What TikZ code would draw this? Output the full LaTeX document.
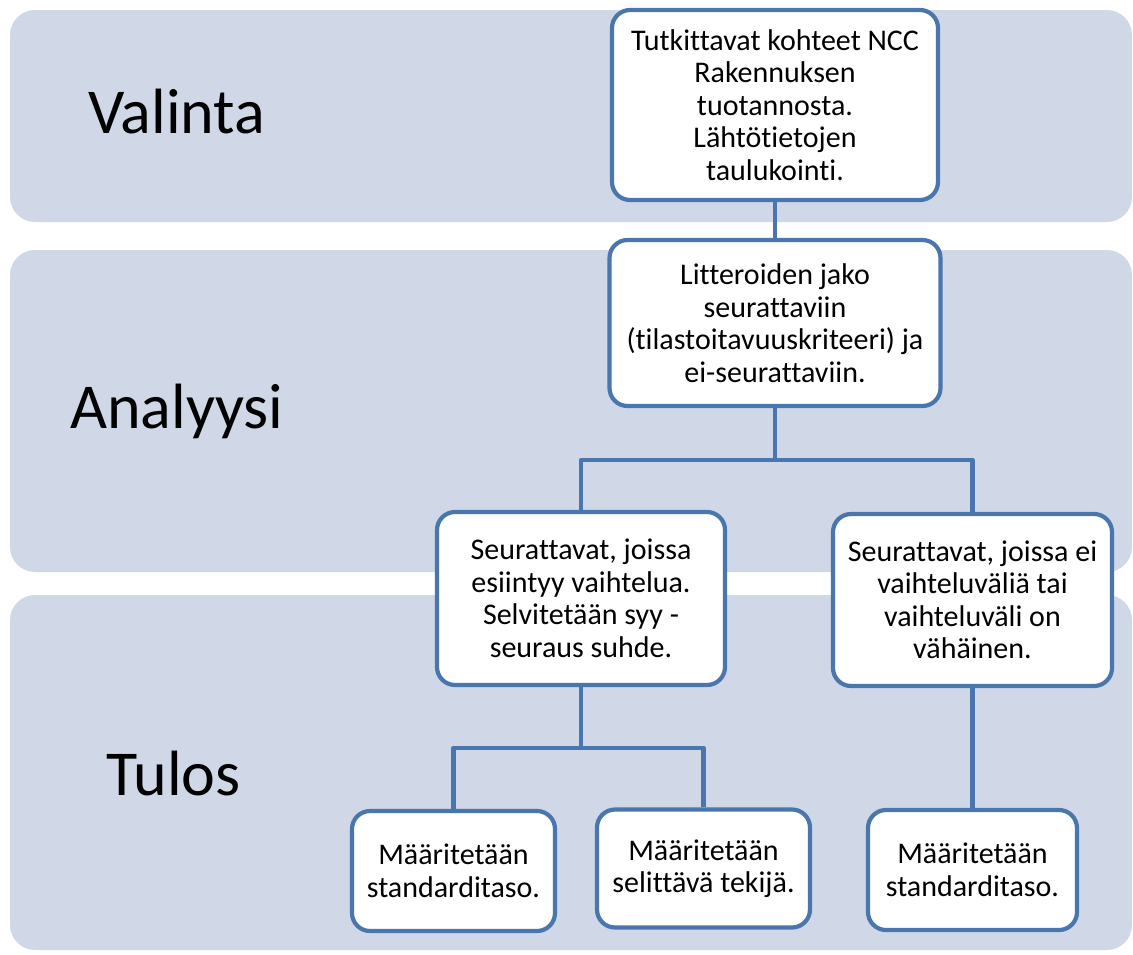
\documentclass[tikz,border=0pt]{standalone}
\usepackage{fontspec}
\setmainfont{Carlito}[Ligatures={NoCommon}]
\definecolor{bandc}{HTML}{D0D8E8}
\definecolor{linec}{HTML}{4A76AE}
\begin{document}
\begin{tikzpicture}[x=1pt,y=1pt,
  band/.style={fill=bandc, draw=none, rounded corners=25pt},
  box/.style={draw=linec, line width=4.2pt, fill=white, rounded corners=18pt,
    align=center, inner sep=0pt, font=\fontsize{30}{32.5}\selectfont},
  conn/.style={draw=linec, line width=4.5pt},
  lbl/.style={anchor=base west, inner sep=0pt, font=\fontsize{64}{72}\selectfont}]
\useasboundingbox (0,0) rectangle (1133,-954);
% bands
\path[band] (10,-10) rectangle (1132,-222);
\path[band] (10,-250) rectangle (1132,-572);
\path[band] (10,-595) rectangle (1132,-950);
% labels
\node[lbl] (l1) at (88,-133) {Valinta};
\node[lbl] (l2) at (70,-428) {Analyysi};
\node[lbl] (l3) at (106,-795) {Tulos};
% junction coordinates
\coordinate (j1) at (775,-460);
\coordinate (j1l) at (581,-460);
\coordinate (j1r) at (972.5,-460);
\coordinate (j2) at (581,-748);
\coordinate (j2l) at (453.5,-748);
\coordinate (j2r) at (703.5,-748);
% boxes
\node[box, minimum width=326pt, minimum height=190pt] (b1) at (775,-105)
  {Tutkittavat kohteet NCC\\Rakennuksen\\tuotannosta.\\Lähtötietojen\\taulukointi.};
\node[box, minimum width=331pt, minimum height=166pt] (b2) at (775,-323)
  {Litteroiden jako\\seurattaviin\\(tilastoitavuuskriteeri) ja\\ei-seurattaviin.};
\node[box, minimum width=288pt, minimum height=173pt] (b3) at (581,-598.5)
  {Seurattavat, joissa\\esiintyy vaihtelua.\\Selvitetään syy -\\seuraus suhde.};
\node[box, minimum width=279pt, minimum height=172pt] (b4) at (972.5,-600)
  {Seurattavat, joissa ei\\vaihteluväliä tai\\vaihteluväli on\\vähäinen.};
\node[box, minimum width=203pt, minimum height=120pt] (b5) at (453.5,-871)
  {Määritetään\\standarditaso.};
\node[box, minimum width=213pt, minimum height=118pt] (b6) at (703.5,-868.5)
  {Määritetään\\selittävä tekijä.};
\node[box, minimum width=209pt, minimum height=120pt] (b7) at (972.5,-870)
  {Määritetään\\standarditaso.};
% connectors
\draw[conn] (b1.south) -- (b2.north);
\draw[conn] (b2.south) -- (j1);
\draw[conn, line join=round] (b3.north) -- (j1l) -- (j1r) -- (b4.north);
\draw[conn] (b3.south) -- (j2);
\draw[conn, line join=round] (b5.north) -- (j2l) -- (j2r) -- (b6.north);
\draw[conn] (b4.south) -- (b7.north);
\end{tikzpicture}
\end{document}
